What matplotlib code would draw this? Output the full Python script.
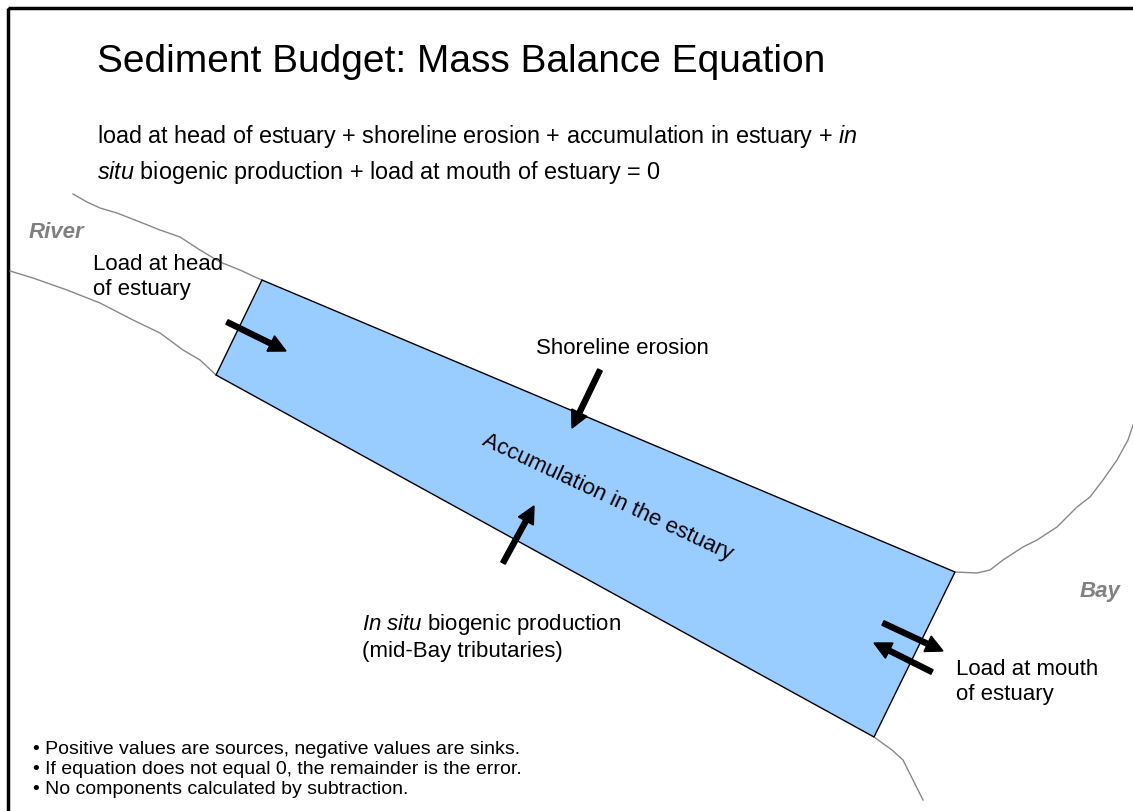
import matplotlib.pyplot as plt
from matplotlib.patches import Polygon, Rectangle, FancyArrow

plt.rcParams['font.family'] = ['Liberation Sans', 'DejaVu Sans']
plt.rcParams['mathtext.fontset'] = 'custom'
plt.rcParams['mathtext.rm'] = 'Liberation Sans'
plt.rcParams['mathtext.it'] = 'Liberation Sans:italic'

# diagram geometry (pixel coordinates, y down)
estuary_x = [262, 955, 874, 216]
estuary_y = [280, 572, 737, 375]

river_top_x = [73, 87, 100, 117, 140, 160, 180, 200, 220, 240, 255, 262]
river_top_y = [194, 202, 208, 213, 222, 230, 237, 250, 262, 270, 277, 280]
river_bot_x = [10, 33, 67, 100, 133, 160, 183, 200, 216]
river_bot_y = [271, 278, 290, 303, 320, 333, 350, 360, 375]

bay_top_x = [955, 977, 990, 1003, 1023, 1037, 1057, 1077, 1090, 1103, 1117, 1128, 1133]
bay_top_y = [572, 573, 570, 560, 547, 540, 527, 507, 497, 480, 460, 440, 425]
bay_bot_x = [874, 892, 903, 913, 923]
bay_bot_y = [737, 750, 760, 780, 800]

# arrows: tail x, tail y, tip x, tip y
arrows = [
    (227, 322, 286, 351),
    (600, 370, 572, 428),
    (503, 563, 534, 506),
    (883, 623, 943, 651),
    (932, 672, 874, 643),
]

title = 'Sediment Budget: Mass Balance Equation'
eq_line1 = r'load at head of estuary + shoreline erosion + accumulation in estuary + $\it{in}$'
eq_line2 = r'$\it{situ}$ biogenic production + load at mouth of estuary = 0'
bullets = ['• Positive values are sources, negative values are sinks.',
           '• If equation does not equal 0, the remainder is the error.',
           '• No components calculated by subtraction.']

fig = plt.figure(figsize=(11.33, 8.11), dpi=100)
ax = fig.add_axes([0, 0, 1, 1])
ax.set_xlim(0, 1133)
ax.set_ylim(811, 0)
ax.axis('off')

# slide frame
ax.add_patch(Rectangle((8, 8), 1200, 900, fill=False, lw=2.5, ec='black'))

# shorelines
for xs, ys in [(river_top_x, river_top_y), (river_bot_x, river_bot_y),
               (bay_top_x, bay_top_y), (bay_bot_x, bay_bot_y)]:
    ax.plot(xs, ys, color='#888888', lw=1.0)

# estuary
ax.add_patch(Polygon(list(zip(estuary_x, estuary_y)), closed=True,
                     fc='#99CCFF', ec='black', lw=1.0, zorder=2))

for x0, y0, x1, y1 in arrows:
    ax.add_patch(FancyArrow(x0, y0, x1 - x0, y1 - y0, width=5, head_width=17,
                            head_length=17, length_includes_head=True,
                            fc='black', ec='black', zorder=4))

ax.text(97, 62, title, fontsize=28, ha='left', va='center')
ax.text(97, 137, eq_line1, fontsize=16.8, ha='left', va='center')
ax.text(97, 173, eq_line2, fontsize=16.8, ha='left', va='center')

ax.text(93, 277, 'Load at head\nof estuary', fontsize=16, ha='left', va='center',
        linespacing=1.2)
ax.text(622, 348, 'Shoreline erosion', fontsize=16, ha='center', va='center')
ax.text(608, 497, 'Accumulation in the estuary', fontsize=16, ha='center',
        va='center', rotation=-25, rotation_mode='anchor', zorder=5)
ax.text(362, 637, r'$\it{In\ situ}$ biogenic production' + '\n(mid-Bay tributaries)',
        fontsize=16, ha='left', va='center', linespacing=1.2)
ax.text(956, 682, 'Load at mouth\nof estuary', fontsize=16, ha='left', va='center',
        linespacing=1.2)

ax.text(29, 232, 'River', fontsize=16, color='#808080', fontweight='bold',
        fontstyle='italic', ha='left', va='center')
ax.text(1120, 592, 'Bay', fontsize=16, color='#808080', fontweight='bold',
        fontstyle='italic', ha='right', va='center')

for i, b in enumerate(bullets):
    ax.text(33, 749 + i * 20, b, fontsize=14, ha='left', va='center')

fig.savefig('out.png', dpi=100)
